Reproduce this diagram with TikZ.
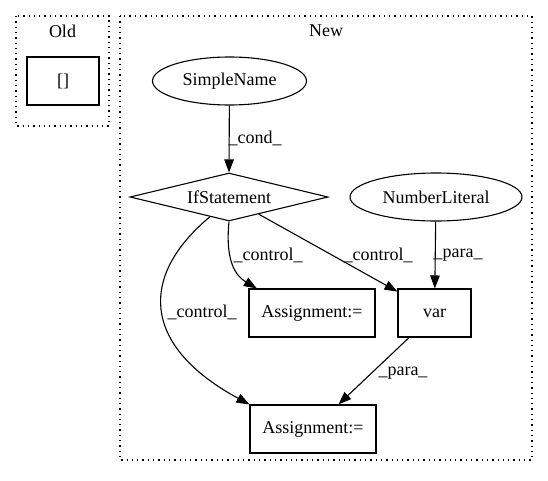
\documentclass[tikz,border=0pt]{standalone}
\usepackage{fontspec}
\setmainfont{Liberation Serif}
\usetikzlibrary{shapes.geometric,arrows.meta}
\begin{document}
\begin{tikzpicture}[x=1pt,y=-1pt,
  every node/.style={font=\fontsize{18}{20}\selectfont, inner sep=0pt},
  cluster/.style={draw, line width=1.1pt, dash pattern=on 1.3pt off 4pt},
  box/.style={draw, line width=1.1pt, minimum width=#1, minimum height=48pt},
  ell/.style={draw, line width=1.1pt, ellipse, minimum width=#1, minimum height=48pt},
  edge/.style={draw, line width=1.1pt, -{Triangle[length=13pt,width=9.5pt]}},
  lbl/.style={fill=none}]
\useasboundingbox (0,0) rectangle (548,480);
% clusters
\draw[cluster] (16,16) rectangle (109,126);
\node (oldlbl) at (62.5,31) {Old};
\draw[cluster] (120,16) rectangle (532,460);
\node (newlbl) at (326,31) {New};
% nodes
\node[box=72pt] (old) at (63,81) {[]};
\node[ell=154pt] (sn) at (229.5,81) {SimpleName};
\node[draw, line width=1.1pt, diamond, aspect=4.125, minimum width=198pt, minimum height=48pt] (if) at (229,197) {};
\node (iflbl) at (229,197) {IfStatement};
\node[ell=172pt] (nl) at (436,197) {NumberLiteral};
\node[box=126pt] (a1) at (312,313) {Assignment:=};
\node[box=73pt] (var) at (434.5,313) {var};
\node[box=126pt] (a2) at (313,429) {Assignment:=};
% edges
\draw[edge] (sn) -- (if.north);
\node[lbl] at (255,138) {\_cond\_};
\draw[edge] (if.south) .. controls (225,262) and (236,276) .. (a1.156);
\node[lbl] at (268,255) {\_control\_};
\draw[edge] (if.-30) -- (var.150);
\node[lbl] at (378,255) {\_control\_};
\draw[edge] (if.-134) .. controls (140,275) and (140,345) .. (a2.north west);
\node[lbl] at (202,312) {\_control\_};
\draw[edge] (nl) -- (var);
\node[lbl] at (458,255) {\_para\_};
\draw[edge] (var.224) -- (a2.44);
\node[lbl] at (403,373) {\_para\_};
\end{tikzpicture}
\end{document}
